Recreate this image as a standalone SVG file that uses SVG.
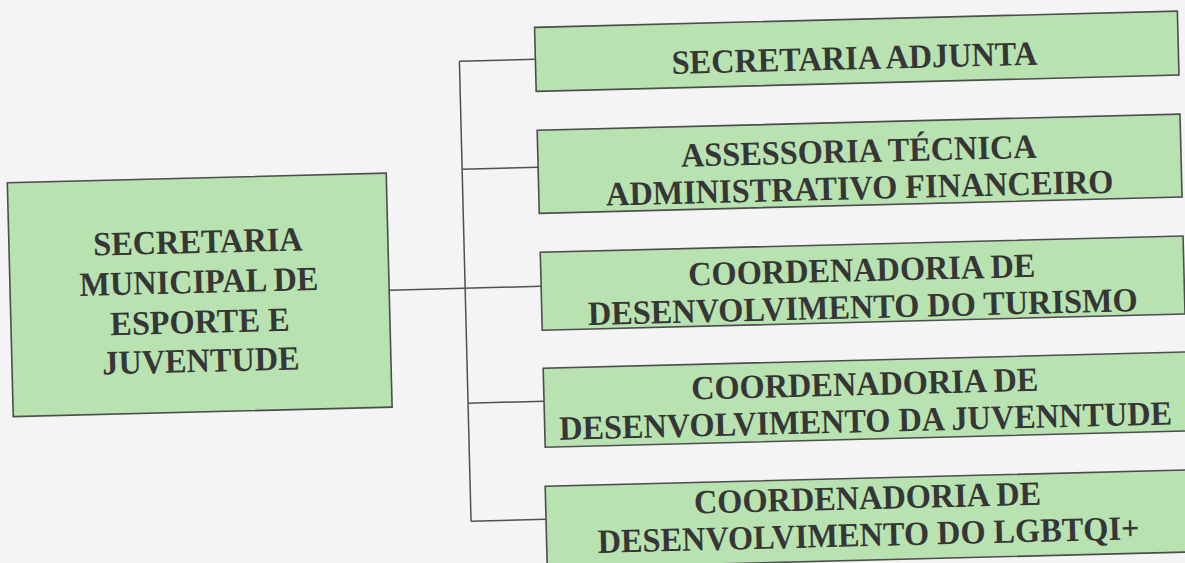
<svg xmlns="http://www.w3.org/2000/svg" width="1185" height="563" viewBox="0 0 1185 563">
  <style>
    .box { fill: #b8e2b0; stroke: #4d4d4d; stroke-width: 1.6; }
    .lbl { font-family: "Liberation Serif", "Times New Roman", serif; font-weight: bold; font-size: 34px; fill: #363636; text-anchor: middle; }
    .wire { fill: none; stroke: #505050; stroke-width: 1.5; }
  </style>
  <rect x="0" y="0" width="1185" height="563" fill="#f4f4f7"/>
  <!-- whole chart sits slightly tilted on the page -->
  <g transform="rotate(-1.45 592 281)">
    <g id="connectors">
      <path class="wire" d="M465 58 V518"/>
      <path class="wire" d="M465 58 H541"/>
      <path class="wire" d="M465 166 H541"/>
      <path class="wire" d="M389 285 H541"/>
      <path class="wire" d="M465 400 H541"/>
      <path class="wire" d="M465 518 H540"/>
    </g>
    <g id="secretaria-municipal">
      <rect class="box" x="10" y="168" width="379" height="234"/>
      <g transform="translate(199 0) scale(0.95 1)">
        <text class="lbl" x="0" y="243">SECRETARIA</text>
        <text class="lbl" x="0" y="283">MUNICIPAL DE</text>
        <text class="lbl" x="0" y="323">ESPORTE E</text>
        <text class="lbl" x="0" y="362">JUVENTUDE</text>
      </g>
    </g>
    <g id="secretaria-adjunta">
      <rect class="box" x="541" y="26" width="643" height="64"/>
      <g transform="translate(860 0) scale(0.95 1)">
        <text class="lbl" x="0" y="76">SECRETARIA ADJUNTA</text>
      </g>
    </g>
    <g id="assessoria-tecnica">
      <rect class="box" x="541" y="129" width="643" height="83"/>
      <g transform="translate(862 0) scale(0.95 1)">
        <text class="lbl" x="0" y="169">ASSESSORIA TÉCNICA</text>
        <text class="lbl" x="0" y="206">ADMINISTRATIVO FINANCEIRO</text>
      </g>
    </g>
    <g id="coord-turismo">
      <rect class="box" x="541" y="251" width="643" height="78"/>
      <g transform="translate(862 0) scale(0.95 1)">
        <text class="lbl" x="0" y="288">COORDENADORIA DE</text>
        <text class="lbl" x="0" y="325">DESENVOLVIMENTO DO TURISMO</text>
      </g>
    </g>
    <g id="coord-juventude">
      <rect class="box" x="541" y="367" width="643" height="79"/>
      <g transform="translate(862 0) scale(0.95 1)">
        <text class="lbl" x="0" y="402">COORDENADORIA DE</text>
        <text class="lbl" x="0" y="439">DESENVOLVIMENTO DA JUVENNTUDE</text>
      </g>
    </g>
    <g id="coord-lgbtqi">
      <rect class="box" x="540" y="485" width="644" height="82"/>
      <g transform="translate(862 0) scale(0.95 1)">
        <text class="lbl" x="0" y="516">COORDENADORIA DE</text>
        <text class="lbl" x="0" y="553">DESENVOLVIMENTO DO LGBTQI+</text>
      </g>
    </g>
  </g>
</svg>
